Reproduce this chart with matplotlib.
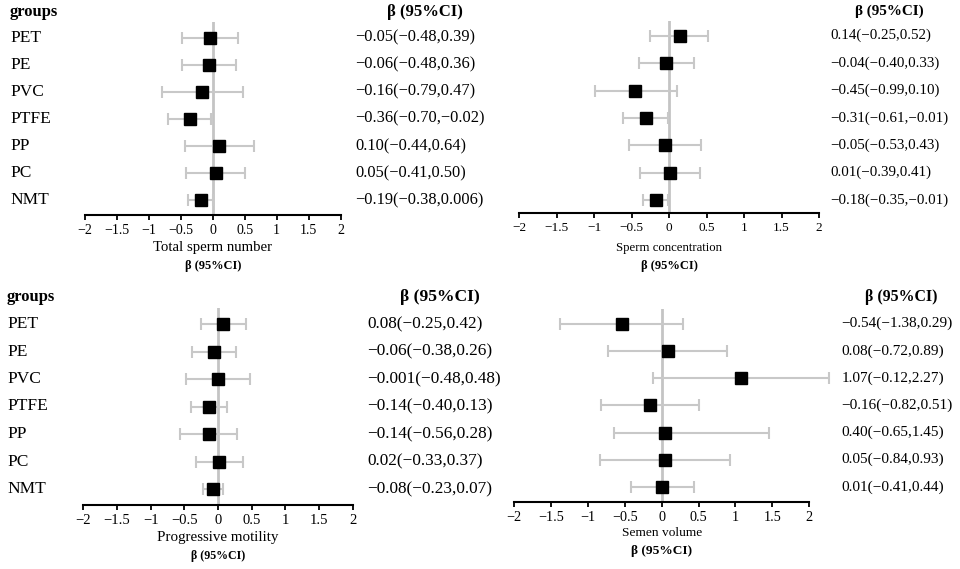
"""Forest plots: plastic exposure groups vs. four semen parameters."""

import matplotlib.pyplot as plt
from matplotlib.transforms import blended_transform_factory

FONT = ["Liberation Serif", "DejaVu Serif"]
BAR_GREY = "#c8c8c8"
ZERO_GREY = "#c4c4c4"
W, H = 960, 569

groups = ["PET", "PE", "PVC", "PTFE", "PP", "PC", "NMT"]
ticks = [-2, -1.5, -1, -0.5, 0, 0.5, 1, 1.5, 2]

tsn_beta = [-0.05, -0.06, -0.16, -0.36, 0.10, 0.05, -0.19]
tsn_lo = [-0.48, -0.48, -0.79, -0.70, -0.44, -0.41, -0.38]
tsn_hi = [0.39, 0.36, 0.47, -0.02, 0.64, 0.50, 0.006]
tsn_text = ["−0.05(−0.48,0.39)", "−0.06(−0.48,0.36)", "−0.16(−0.79,0.47)",
            "−0.36(−0.70,−0.02)", "0.10(−0.44,0.64)", "0.05(−0.41,0.50)",
            "−0.19(−0.38,0.006)"]

conc_beta = [0.14, -0.04, -0.45, -0.31, -0.05, 0.01, -0.18]
conc_lo = [-0.25, -0.40, -0.99, -0.61, -0.53, -0.39, -0.35]
conc_hi = [0.52, 0.33, 0.10, -0.01, 0.43, 0.41, -0.01]
conc_text = ["0.14(−0.25,0.52)", "−0.04(−0.40,0.33)", "−0.45(−0.99,0.10)",
             "−0.31(−0.61,−0.01)", "−0.05(−0.53,0.43)", "0.01(−0.39,0.41)",
             "−0.18(−0.35,−0.01)"]

mot_beta = [0.08, -0.06, -0.001, -0.14, -0.14, 0.02, -0.08]
mot_lo = [-0.25, -0.38, -0.48, -0.40, -0.56, -0.33, -0.23]
mot_hi = [0.42, 0.26, 0.48, 0.13, 0.28, 0.37, 0.07]
mot_text = ["0.08(−0.25,0.42)", "−0.06(−0.38,0.26)", "−0.001(−0.48,0.48)",
            "−0.14(−0.40,0.13)", "−0.14(−0.56,0.28)", "0.02(−0.33,0.37)",
            "−0.08(−0.23,0.07)"]

# PP marker is drawn near 0.05 in the source figure, although its label reads 0.40
vol_beta = [-0.54, 0.08, 1.07, -0.16, 0.05, 0.05, 0.01]
vol_lo = [-1.38, -0.72, -0.12, -0.82, -0.65, -0.84, -0.41]
vol_hi = [0.29, 0.89, 2.27, 0.51, 1.45, 0.93, 0.44]
vol_text = ["−0.54(−1.38,0.29)", "0.08(−0.72,0.89)", "1.07(−0.12,2.27)",
            "−0.16(−0.82,0.51)", "0.40(−0.65,1.45)", "0.05(−0.84,0.93)",
            "0.01(−0.41,0.44)"]


def fx(px):
    return px / W


def fy(py):
    return 1 - py / H


def panel(fig, box, rows, beta, lo, hi, text, name, show_groups):
    left, right, top, bottom, y0, dy = box["ax"]
    fs_tick, fs_ci, fs_head, fs_name, fs_sub = box["fs"]
    ax = fig.add_axes([fx(left), fy(bottom), fx(right - left), (bottom - top) / H])
    ax.set_facecolor("none")
    ax.set_xlim(-2, 2)
    ax.set_ylim((bottom - y0) / dy, (top - y0) / dy)

    ax.axvline(0, color=ZERO_GREY, lw=2, zorder=1)
    xerr = [[b - l for b, l in zip(beta, lo)], [h - b for b, h in zip(beta, hi)]]
    eb = ax.errorbar(beta, rows, xerr=xerr, fmt="none", ecolor=BAR_GREY,
                     elinewidth=1.5, capsize=4, capthick=1.5, zorder=2)
    for art in eb.lines[1] + eb.lines[2]:
        art.set_clip_on(False)
    ax.plot(beta, rows, "s", color="black", ms=8, zorder=3, clip_on=False)

    for side in ("top", "right", "left"):
        ax.spines[side].set_visible(False)
    ax.spines["bottom"].set_linewidth(1.5)
    ax.set_yticks([])
    ax.set_xticks(ticks)
    ax.set_xticklabels([f"{t:g}".replace("-", "−") for t in ticks],
                       fontsize=fs_tick, family=FONT)
    ax.tick_params(axis="x", length=3.5, width=1.3, pad=3)

    tr = blended_transform_factory(fig.transFigure, ax.transData)
    if show_groups:
        for r, g in zip(rows, groups):
            ax.text(fx(box["lab_x"]), r, g, transform=tr, va="center",
                    ha="left", fontsize=12.5, family=FONT)
        fig.text(fx(box["lab_x"]), fy(box["head_y"]), "groups", va="center",
                 ha="left", fontsize=12, weight="bold", family=FONT)
    for r, t in zip(rows, text):
        ax.text(fx(box["ci_x"]), r, t, transform=tr, va="center", ha="left",
                fontsize=fs_ci, family=FONT)
    fig.text(fx(box["head_x"]), fy(box["head_y"]), "β (95%CI)", va="center",
             ha="center", fontsize=fs_head, weight="bold", family=FONT)

    mid = (left + right) / 2
    fig.text(fx(mid), fy(box["name_y"]), name, va="center", ha="center",
             fontsize=fs_name, family=FONT)
    fig.text(fx(mid), fy(box["name_y"] + 18), "β (95%CI)", va="center",
             ha="center", fontsize=fs_sub, weight="bold", family=FONT)


def main() -> None:
    fig = plt.figure(figsize=(W / 100, H / 100), dpi=100)
    rows = list(range(len(groups)))

    panel(fig, {"ax": (84.7, 340.7, 22, 215, 37.7, 27.05), "lab_x": 10,
                "ci_x": 355, "head_x": 425, "head_y": 12, "name_y": 248,
                "fs": (10, 11.8, 12, 10.6, 8.9)},
          rows, tsn_beta, tsn_lo, tsn_hi, tsn_text, "Total sperm number", True)
    panel(fig, {"ax": (519.3, 819, 21, 213, 35.7, 27.4), "lab_x": 10,
                "ci_x": 830.5, "head_x": 889, "head_y": 11, "name_y": 248,
                "fs": (9.5, 10.8, 10.9, 9.2, 9)},
          rows, conc_beta, conc_lo, conc_hi, conc_text, "Sperm concentration", False)
    panel(fig, {"ax": (83.3, 352.7, 308, 505, 324, 27.5), "lab_x": 7,
                "ci_x": 367, "head_x": 440, "head_y": 297, "name_y": 538,
                "fs": (10.5, 12.4, 12.6, 10.8, 8.6)},
          rows, mot_beta, mot_lo, mot_hi, mot_text, "Progressive motility", True)
    panel(fig, {"ax": (514, 809.3, 309, 502, 323.7, 27.2), "lab_x": 7,
                "ci_x": 841.7, "head_x": 901.7, "head_y": 297, "name_y": 533,
                "fs": (10.3, 11.0, 11.4, 9.6, 9.6)},
          rows, vol_beta, vol_lo, vol_hi, vol_text, "Semen volume", False)

    fig.savefig("out.png", dpi=100, facecolor="white")
    plt.close(fig)


if __name__ == "__main__":
    main()
